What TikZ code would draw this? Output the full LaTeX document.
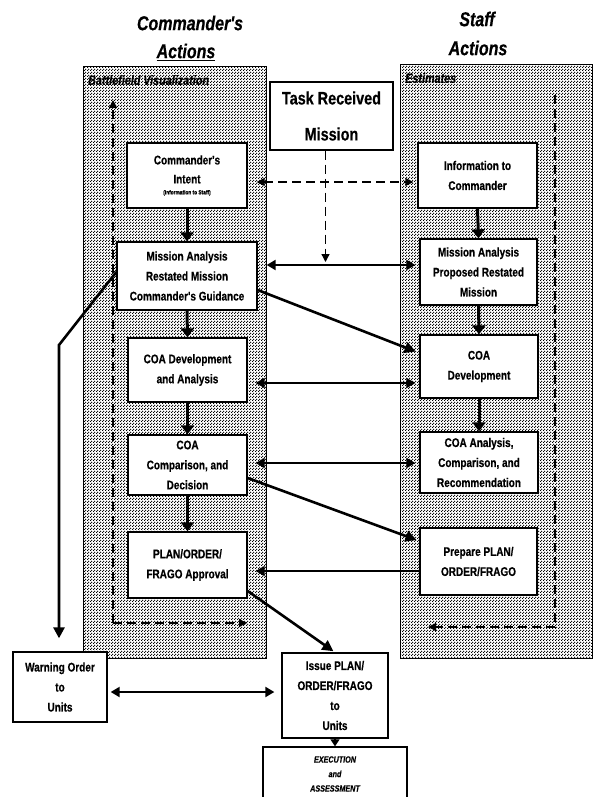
\documentclass[tikz,border=0pt]{standalone}
\usepackage{fontspec}
\setmainfont{Liberation Sans}
\newfontfamily\narrowsans{Liberation Sans}[FakeStretch=0.8, BoldFeatures={FakeBold=0.5}, BoldItalicFeatures={FakeBold=0.5}]
\usetikzlibrary{arrows.meta,patterns}

% halftone dot screen for the two action panels
\pgfdeclarepatternformonly{halftone}{\pgfpointorigin}{\pgfpoint{3pt}{3pt}}{\pgfpoint{3pt}{3pt}}{%
  \pgfpathcircle{\pgfpoint{0.75pt}{0.75pt}}{0.86pt}%
  \pgfpathcircle{\pgfpoint{2.25pt}{2.25pt}}{0.86pt}%
  \pgfusepath{fill}}

\newcommand\dgboxfont{\narrowsans\bfseries\fontsize{12.5}{20}\selectfont}
\newcommand\dghead{\narrowsans\bfseries\itshape\fontsize{20}{30}\selectfont}

\begin{document}
\begin{tikzpicture}[x=1pt,y=-1pt,
  panel/.style={draw, line width=1pt, pattern=halftone, inner sep=0pt},
  box/.style={draw, line width=1.3pt, fill=white, align=center, font=\dgboxfont, inner sep=2pt},
  title/.style={font=\narrowsans\bfseries\itshape\fontsize{13.5}{15}\selectfont, inner sep=0pt, anchor=west},
  down/.style={line width=3pt, -{Triangle[length=9pt,width=13pt]}},
  heavy/.style={line width=2.6pt, -{Triangle[length=11pt,width=11pt]}},
  link/.style={line width=2pt, {Triangle[length=9pt,width=10pt]}-{Triangle[length=9pt,width=10pt]}},
  loop/.style={line width=1.3pt, dash pattern=on 9pt off 5pt, -{Triangle[length=8pt,width=8pt]}}]
\useasboundingbox (0,0) rectangle (595,797);

% column headings
\node[font=\dghead] (chead) at (190,23) {Commander's};
\node[font=\dghead] (cact) at (186,52) {\underline{Actions}};
\node[font=\dghead] (shead) at (477,19) {Staff};
\node[font=\dghead] (sact) at (478,48) {Actions};

% shaded panels
\node[panel, minimum width=183pt, minimum height=591pt] (lpanel) at (174.5,362.5) {};
\node[panel, minimum width=192pt, minimum height=593pt] (rpanel) at (496,361.5) {};
\node[title] (bv) at (88,80) {Battlefield Visualization};
\node[title] (est) at (405,78) {Estimates};

% task box between the panels
\node[box, minimum width=123pt, minimum height=68pt, font=\narrowsans\bfseries\fontsize{18}{36}\selectfont, inner sep=0pt] (task) at (331.5,116) {Task Received\\Mission};

% commander column
\node[box, minimum width=120pt, minimum height=65pt] (ci) at (187,175.5)
  {Commander's\\[-1pt]Intent\\[-9pt]{\fontsize{6}{8}\selectfont (Information to Staff)}};
\node[box, minimum width=140pt, minimum height=68pt] (ma) at (187,276)
  {Mission Analysis\\Restated Mission\\Commander's Guidance};
\node[box, minimum width=119pt, minimum height=64pt] (cdev) at (187.5,370)
  {COA Development\\and Analysis};
\node[box, minimum width=119pt, minimum height=60pt] (ccomp) at (187.5,465)
  {COA\\Comparison, and\\Decision};
\node[box, minimum width=119pt, minimum height=66pt] (plan) at (187.5,565)
  {PLAN/ORDER/\\FRAGO Approval};

% staff column
\node[box, minimum width=119pt, minimum height=65pt] (info) at (477.5,175.5)
  {Information to\\Commander};
\node[box, minimum width=117pt, minimum height=66pt] (map) at (478.5,272)
  {Mission Analysis\\Proposed Restated\\Mission};
\node[box, minimum width=118pt, minimum height=63pt] (sdev) at (479,366.5)
  {COA\\Development};
\node[box, minimum width=118pt, minimum height=61pt] (sanal) at (479,462.5)
  {COA Analysis,\\Comparison, and\\Recommendation};
\node[box, minimum width=117pt, minimum height=67pt] (prep) at (478.5,561.5)
  {Prepare PLAN/\\ORDER/FRAGO};

% output boxes
\node[box, minimum width=94pt, minimum height=70pt] (warn) at (60,687)
  {Warning Order\\to\\Units};
\node[box, minimum width=106pt, minimum height=85pt] (issue) at (335,695.5)
  {Issue PLAN/\\ORDER/FRAGO\\to\\Units};
\node[box, minimum width=144pt, minimum height=54pt, font=\narrowsans\bfseries\itshape\fontsize{9}{14.5}\selectfont] (exec) at (335,774)
  {EXECUTION\\and\\ASSESSMENT};

% flow down each column
\draw[down] (ci.south) -- (ma.north);
\draw[down] (ma.south) -- (cdev.north);
\draw[down] (cdev.south) -- (ccomp.north);
\draw[down] (ccomp.south) -- (plan.north);
\draw[down] (info.south) -- (map.north);
\draw[down] (map.south) -- (sdev.north);
\draw[down] (sdev.south) -- (sanal.north);

% exchanges between commander and staff
\draw[loop, {Triangle[length=8pt,width=8pt]}-{Triangle[length=8pt,width=8pt]}, shorten <=9pt, shorten >=4pt]
  (ci.east |- 0,182) -- (info.west |- 0,182);
\draw[loop] ([xshift=-6pt]task.south) -- ([xshift=-6pt]task.south |- 0,262);
\draw[link, shorten <=9pt, shorten >=4pt] (ma.east |- 0,265) -- (map.west |- 0,265);
\draw[link, shorten <=8pt, shorten >=4pt] (cdev.east |- 0,383) -- (sdev.west |- 0,383);
\draw[link, shorten <=8pt, shorten >=4pt] (ccomp.east |- 0,463) -- (sanal.west |- 0,463);
\draw[heavy, shorten >=4pt] (ma.east |- 0,290) -- (sdev.west |- 0,353);
\draw[heavy, shorten >=3pt] (ccomp.east |- 0,478) -- (prep.west |- 0,541);
\draw[line width=2pt, -{Triangle[length=9pt,width=10pt]}, shorten >=8pt] (prep.west |- 0,571) -- (plan.east |- 0,571);

% orders out to units
\coordinate (bend) at (59,345);
\draw[heavy, shorten >=13pt] (ma.west |- 0,272) -- (bend) -- (bend |- warn.north);
\draw[heavy, shorten >=2pt] (plan.east |- 0,591) -- (issue.north);
\draw[link, shorten <=3pt, shorten >=7pt] (warn.east |- 0,692) -- (issue.west |- 0,692);
\draw[line width=1.2pt, -{Triangle[length=7pt,width=9pt]}] (issue.south) -- (exec.north);

% feedback loops inside the panels
\coordinate (lcorner) at (113,623);
\draw[loop] (lcorner) -- (lcorner |- 0,100);
\draw[loop] (lcorner) -- (247,623);
\coordinate (rtop) at (555,95);
\draw[loop] (rtop) -- (rtop |- 0,627) -- (428,627);
\end{tikzpicture}
\end{document}
